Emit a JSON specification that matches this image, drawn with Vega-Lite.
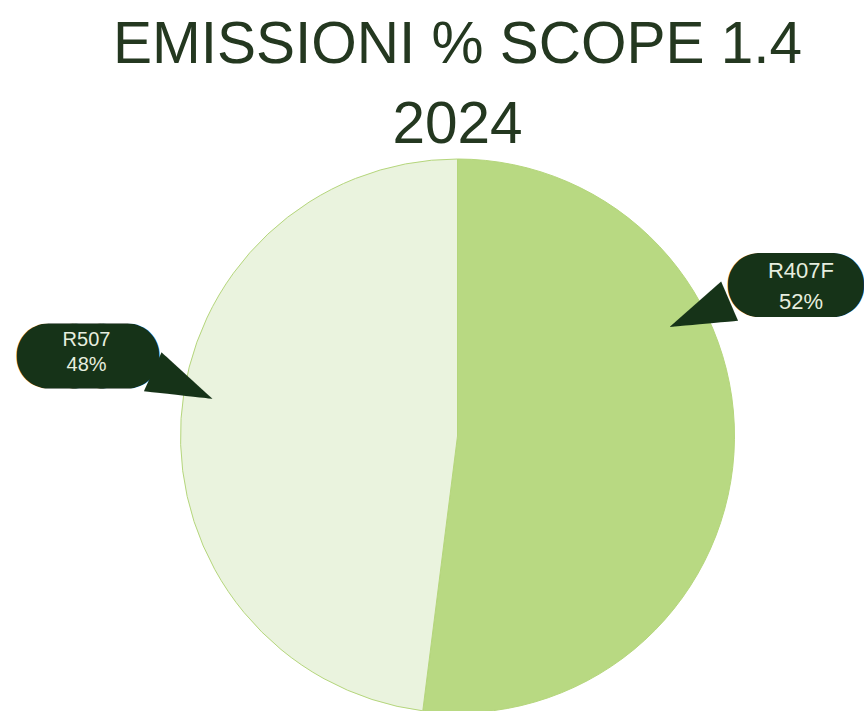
{
  "$schema": "https://vega.github.io/schema/vega-lite/v6.json",
  "width": 814,
  "height": 554,
  "padding": {"left": 46.5, "top": 16, "right": 0, "bottom": 0},
  "background": "white",
  "config": {"view": {"stroke": null}},
  "title": {
    "text": ["EMISSIONI % SCOPE 1.4", "2024"],
    "fontSize": 58.5,
    "lineHeight": 80,
    "font": "Liberation Sans",
    "fontWeight": "normal",
    "color": "#243820",
    "anchor": "middle",
    "offset": 1.5
  },
  "data": {
    "values": [
      {"refrigerante": "R407F", "share": 0.52},
      {"refrigerante": "R507", "share": 0.48}
    ]
  },
  "layer": [
    {
      "mark": {"type": "arc", "outerRadius": 277, "stroke": "#b5d67c", "strokeWidth": 1},
      "encoding": {
        "theta": {"field": "share", "type": "quantitative", "stack": true},
        "color": {
          "field": "refrigerante",
          "type": "nominal",
          "scale": {"domain": ["R407F", "R507"], "range": ["#b8d982", "#eaf3de"]},
          "legend": null
        },
        "order": {"field": "refrigerante", "sort": "ascending"}
      }
    },
    {
      "transform": [{"filter": "datum.refrigerante == 'R507'"}],
      "mark": {"type": "text", "text": "►", "font": "DejaVu Sans", "fontSize": 86, "align": "center", "baseline": "middle", "color": "#163318", "angle": 24.4},
      "encoding": {"theta": {"value": 4.9078}, "radius": {"value": 278.6}}
    },
    {
      "transform": [{"filter": "datum.refrigerante == 'R407F'"}],
      "mark": {"type": "text", "text": "►", "font": "DejaVu Sans", "fontSize": 86, "align": "center", "baseline": "middle", "color": "#163318", "angle": 156.7},
      "encoding": {"theta": {"value": 1.1179}, "radius": {"value": 270.8}}
    },
    {
      "transform": [{"filter": "datum.refrigerante == 'R507'"}],
      "mark": {"type": "text", "text": "———", "font": "DejaVu Sans", "fontSize": 27.5, "align": "center", "baseline": "middle", "color": "#163318", "stroke": "#163318", "strokeWidth": 63, "strokeJoin": "round", "strokeCap": "round"},
      "encoding": {"theta": {"value": 4.9257}, "radius": {"value": 378.1}}
    },
    {
      "transform": [{"filter": "datum.refrigerante == 'R407F'"}],
      "mark": {"type": "text", "text": "———", "font": "DejaVu Sans", "fontSize": 25.7, "align": "center", "baseline": "middle", "color": "#163318", "stroke": "#163318", "strokeWidth": 62, "strokeJoin": "round", "strokeCap": "round"},
      "encoding": {"theta": {"value": 1.1498}, "radius": {"value": 370.9}}
    },
    {
      "transform": [{"filter": "datum.refrigerante == 'R507'"}],
      "mark": {"type": "text", "font": "Liberation Sans", "fontSize": 20, "align": "center", "baseline": "middle", "color": "#e6eedf", "dy": -12.5},
      "encoding": {"theta": {"value": 4.9331}, "radius": {"value": 380.2}, "text": {"field": "refrigerante"}}
    },
    {
      "transform": [{"filter": "datum.refrigerante == 'R507'"}],
      "mark": {"type": "text", "font": "Liberation Sans", "fontSize": 20, "align": "center", "baseline": "middle", "color": "#e6eedf", "dy": 12.5},
      "encoding": {"theta": {"value": 4.9331}, "radius": {"value": 380.2}, "text": {"field": "share", "format": ".0%"}}
    },
    {
      "transform": [{"filter": "datum.refrigerante == 'R407F'"}],
      "mark": {"type": "text", "font": "Liberation Sans", "fontSize": 22, "align": "center", "baseline": "middle", "color": "#e6eedf", "dy": -15.5},
      "encoding": {"theta": {"value": 1.1603}, "radius": {"value": 374.6}, "text": {"field": "refrigerante"}}
    },
    {
      "transform": [{"filter": "datum.refrigerante == 'R407F'"}],
      "mark": {"type": "text", "font": "Liberation Sans", "fontSize": 22, "align": "center", "baseline": "middle", "color": "#e6eedf", "dy": 15.5},
      "encoding": {"theta": {"value": 1.1603}, "radius": {"value": 374.6}, "text": {"field": "share", "format": ".0%"}}
    }
  ]
}
